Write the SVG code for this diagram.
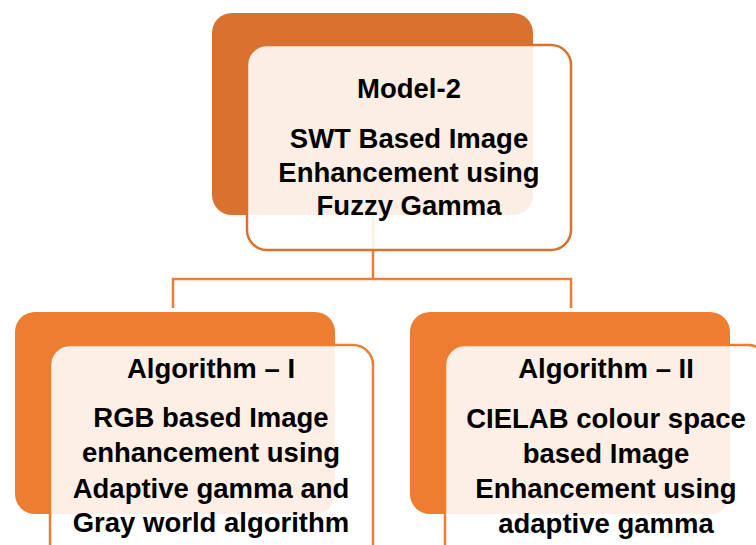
<svg xmlns="http://www.w3.org/2000/svg" width="756" height="545" viewBox="0 0 756 545">
  <style>
    .back-top { fill: #D9722F; }
    .back { fill: #ED7D31; }
    .front-top { fill: #ffffff; fill-opacity: 0.88; stroke: #D9722F; stroke-width: 2.5; }
    .front { fill: #ffffff; fill-opacity: 0.88; stroke: #ED7D31; stroke-width: 2.5; }
    .link { fill: none; stroke: #ED7D31; stroke-width: 2.5; }
    text { font-family: "Liberation Sans", Arial, sans-serif; font-weight: bold; font-size: 27.5px; fill: #000000; text-anchor: middle; }
  </style>
  <rect width="756" height="545" fill="#ffffff"/>

  <!-- hierarchy lines, drawn under the boxes -->
  <g id="connectors">
    <path class="link" d="M373,215 V279 M173,308 V279 H571 V308"/>
  </g>

  <g id="model-2">
    <rect class="back-top" x="212" y="13" width="321" height="202" rx="20"/>
    <rect class="front-top" x="247" y="45" width="324" height="205" rx="20"/>
    <text x="409" y="98">Model-2</text>
    <text x="409" y="148">SWT Based Image</text>
    <text x="409" y="182">Enhancement using</text>
    <text x="409" y="215">Fuzzy Gamma</text>
  </g>

  <g id="algorithm-1">
    <rect class="back" x="15" y="312" width="320" height="202" rx="20"/>
    <rect class="front" x="50" y="345" width="323" height="220" rx="20"/>
    <text x="211" y="378">Algorithm – I</text>
    <text x="211" y="427">RGB based Image</text>
    <text x="211" y="462">enhancement using</text>
    <text x="211" y="498">Adaptive gamma and</text>
    <text x="211" y="532">Gray world algorithm</text>
  </g>

  <g id="algorithm-2">
    <rect class="back" x="410" y="312" width="320" height="202" rx="20"/>
    <rect class="front" x="445" y="345" width="323" height="220" rx="20"/>
    <text x="606" y="378">Algorithm – II</text>
    <text x="606" y="428">CIELAB colour space</text>
    <text x="606" y="463">based Image</text>
    <text x="606" y="498">Enhancement using</text>
    <text x="606" y="533">adaptive gamma</text>
  </g>
</svg>
